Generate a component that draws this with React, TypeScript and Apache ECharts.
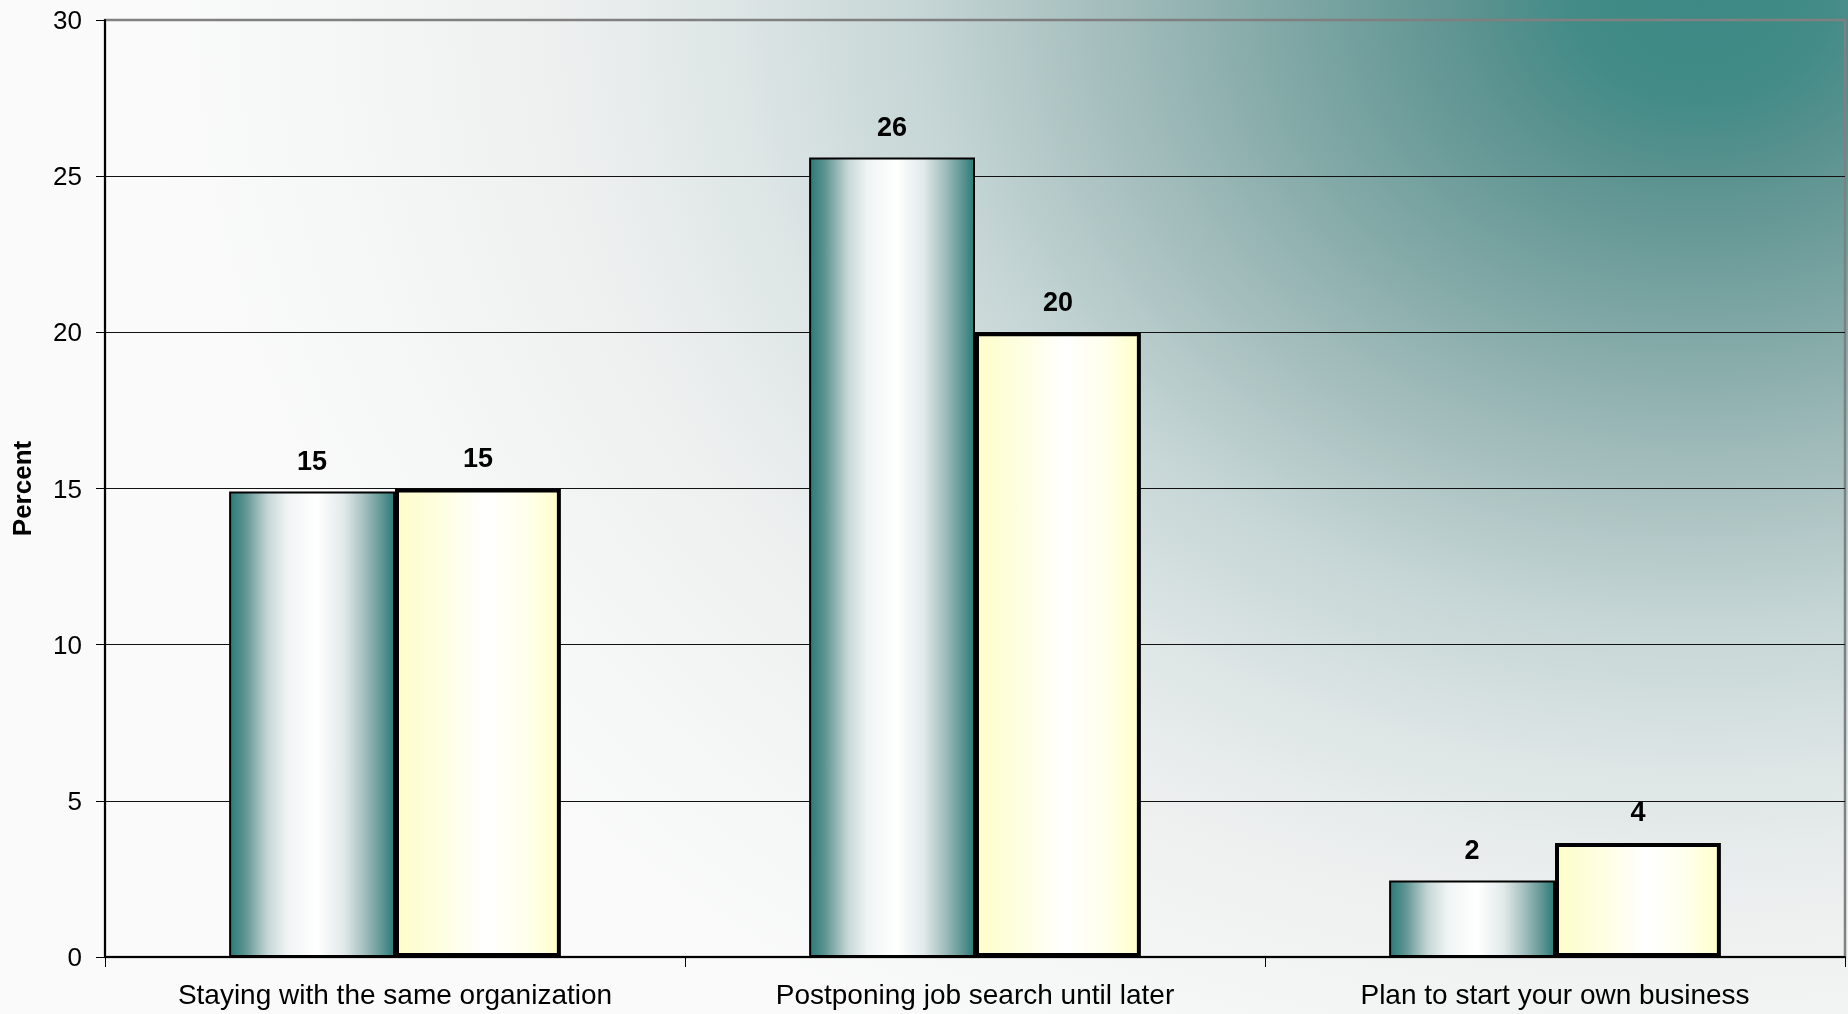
import React, { useEffect, useRef } from "react";
import * as echarts from "echarts";

const categories = [
  "Staying with the same organization",
  "Postponing job search until later",
  "Plan to start your own business",
];
const seriesA = [14.9, 25.6, 2.45];
const seriesB = [15.0, 20.0, 3.65];
const yMin = 0;
const yMax = 30;
const yInterval = 5;

const FONT = "'Liberation Sans', Arial, Helvetica, sans-serif";

export default function App() {
  const ref = useRef<HTMLDivElement>(null);

  useEffect(() => {
    if (!ref.current) return;
    const chart = echarts.init(ref.current, null, { renderer: "svg" });

    const bgStops = [
      { offset: 0, color: "#3e8985" },
      { offset: 0.08, color: "#428b87" },
      { offset: 0.143, color: "#5a928f" },
      { offset: 0.265, color: "#7fa7a5" },
      { offset: 0.381, color: "#a3bdbc" },
      { offset: 0.5, color: "#c5d5d5" },
      { offset: 0.62, color: "#dde5e5" },
      { offset: 0.74, color: "#eef0f0" },
      { offset: 0.9, color: "#f6f7f7" },
      { offset: 1, color: "#fafafa" },
    ];
    const sy = 0.8;

    const tealGrad = new echarts.graphic.LinearGradient(0, 0, 1, 0, [
      { offset: 0, color: "#2b7b78" },
      { offset: 0.09, color: "#5c9391" },
      { offset: 0.23, color: "#c6d6d6" },
      { offset: 0.35, color: "#f0f4f4" },
      { offset: 0.53, color: "#ffffff" },
      { offset: 0.69, color: "#e3eaea" },
      { offset: 0.81, color: "#a8c2c1" },
      { offset: 0.91, color: "#6a9d9b" },
      { offset: 1, color: "#2b7b78" },
    ]);
    const yellowGrad = new echarts.graphic.LinearGradient(0, 0, 1, 0, [
      { offset: 0, color: "#fdfdca" },
      { offset: 0.3, color: "#fefee4" },
      { offset: 0.55, color: "#ffffff" },
      { offset: 0.8, color: "#ffffec" },
      { offset: 1, color: "#ffffca" },
    ]);

    const labelCommon = {
      show: true,
      position: "top" as const,
      distance: 17,
      color: "#000",
      fontFamily: FONT,
      fontSize: 27,
      fontWeight: "bold" as const,
      formatter: (p: any) => String(Math.round(p.value)),
    };

    chart.setOption({
      animation: false,
      graphic: [
        {
          type: "rect",
          z: -100,
          silent: true,
          scaleY: sy,
          shape: { x: 0, y: 0, width: 1848, height: 1014 / sy + 2 },
          style: {
            fill: new echarts.graphic.RadialGradient(1700, 0, 1550, bgStops, true),
          },
        },
      ],
      grid: {
        left: 105,
        top: 20,
        right: 3,
        bottom: 57,
        show: true,
        borderColor: "#808080",
        borderWidth: 2.5,
        backgroundColor: "transparent",
      },
      xAxis: {
        type: "category",
        data: categories,
        axisLine: { show: true, lineStyle: { color: "#000", width: 2 } },
        axisTick: { show: true, length: 10, lineStyle: { color: "#000", width: 1 } },
        axisLabel: {
          color: "#000",
          fontFamily: FONT,
          fontSize: 28,
          margin: 23,
        },
        splitLine: { show: false },
      },
      yAxis: {
        type: "value",
        min: yMin,
        max: yMax,
        interval: yInterval,
        name: "Percent",
        nameLocation: "middle",
        nameGap: 70,
        nameRotate: 90,
        nameTextStyle: {
          color: "#000",
          fontFamily: FONT,
          fontSize: 26,
          fontWeight: "bold",
        },
        axisLine: { show: true, lineStyle: { color: "#000", width: 2 } },
        axisTick: { show: true, length: 9, lineStyle: { color: "#000", width: 1 } },
        axisLabel: {
          color: "#000",
          fontFamily: FONT,
          fontSize: 26,
          margin: 23,
        },
        splitLine: {
          show: true,
          showMaxLine: false,
          lineStyle: { color: "#111", width: 1 },
        },
      },
      series: [
        {
          type: "bar",
          data: seriesA,
          barGap: "0%",
          barCategoryGap: "42.8%",
          itemStyle: { color: tealGrad, borderColor: "#000", borderWidth: 2 },
          label: labelCommon,
        },
        {
          type: "bar",
          data: seriesB,
          barGap: "0%",
          barCategoryGap: "42.8%",
          itemStyle: { color: yellowGrad, borderColor: "#000", borderWidth: 4 },
          label: labelCommon,
        },
      ],
    });

    return () => chart.dispose();
  }, []);

  return (
    <div
      ref={ref}
      style={{ position: "fixed", left: 0, top: 0, width: 1848, height: 1014 }}
    />
  );
}
